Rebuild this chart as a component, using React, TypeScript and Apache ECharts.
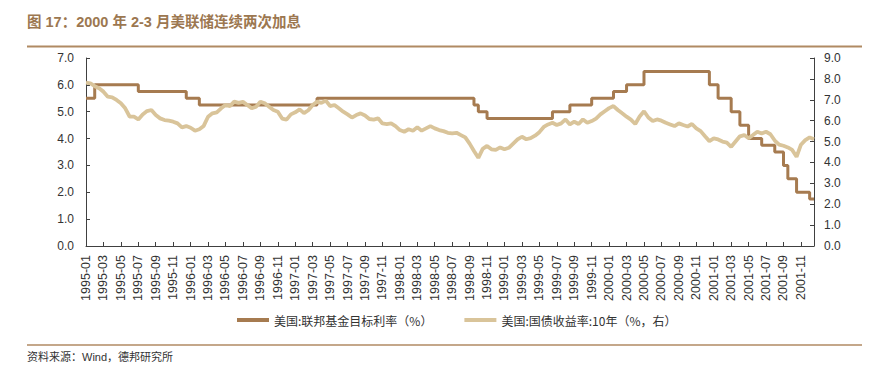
import React, { useEffect, useRef } from "react";
import * as echarts from "echarts";

// Half-month categories, 1995-01 .. 2001-12 ("a" = first half, "b" = second half)
const years = [1995, 1996, 1997, 1998, 1999, 2000, 2001];
const months = ["01", "02", "03", "04", "05", "06", "07", "08", "09", "10", "11", "12"];
const halves = ["a", "b"];
const categories: string[] = [];
years.forEach((y) => months.forEach((m) => halves.forEach((h) => categories.push(`${y}-${m}${h}`))));

// Fed funds target rate (%), left axis: dates of change and new level
const fedChangeDates = [
  "1995-01a", "1995-02a", "1995-07a", "1995-12b", "1996-02a", "1997-03b",
  "1998-09b", "1998-10a", "1998-11a", "1999-06b", "1999-08b", "1999-11a",
  "2000-01b", "2000-03a", "2000-05a", "2000-12b", "2001-01b", "2001-03a",
  "2001-04a", "2001-05a", "2001-06b", "2001-08a", "2001-09a", "2001-09b",
  "2001-10b", "2001-12a",
];
const fedRates = [
  5.5, 6.0, 5.75, 5.5, 5.25, 5.5,
  5.25, 5.0, 4.75, 5.0, 5.25, 5.5,
  5.75, 6.0, 6.5, 6.0, 5.5, 5.0,
  4.5, 4.0, 3.75, 3.5, 3.0, 2.5,
  2.0, 1.75,
];

// US 10Y Treasury yield (%), right axis, half-monthly readings
const yield10y = [
  7.82, 7.79, 7.65, 7.55, 7.39, 7.15, 7.12, 6.99, 6.83, 6.59, 6.2, 6.19, 6.06, 6.3, 6.46, 6.51, 6.27, 6.11, 6.03, 6.0, 5.95, 5.87, 5.68, 5.74,
  5.66, 5.52, 5.59, 5.75, 6.19, 6.35, 6.4, 6.59, 6.75, 6.7, 6.91, 6.85, 6.9, 6.75, 6.59, 6.67, 6.91, 6.83, 6.67, 6.51, 6.43, 6.1, 6.05, 6.3,
  6.4, 6.54, 6.36, 6.5, 6.75, 6.91, 6.85, 6.96, 6.7, 6.75, 6.59, 6.43, 6.3, 6.15, 6.27, 6.35, 6.25, 6.08, 6.05, 6.11, 5.87, 5.84, 5.87, 5.74,
  5.55, 5.47, 5.59, 5.52, 5.68, 5.52, 5.63, 5.74, 5.63, 5.55, 5.5, 5.42, 5.39, 5.42, 5.31, 5.2, 4.9, 4.55, 4.22, 4.65, 4.79, 4.63, 4.6, 4.72,
  4.63, 4.7, 4.9, 5.1, 5.23, 5.11, 5.16, 5.28, 5.45, 5.7, 5.82, 5.9, 5.79, 5.87, 6.06, 5.82, 5.95, 5.84, 6.06, 5.9, 5.98, 6.1, 6.3, 6.45,
  6.6, 6.7, 6.51, 6.35, 6.19, 6.05, 5.84, 6.2, 6.45, 6.15, 5.98, 6.06, 6.0, 5.9, 5.82, 5.74, 5.87, 5.79, 5.72, 5.84, 5.63, 5.5, 5.25, 5.02,
  5.15, 5.1, 5.0, 4.95, 4.75, 5.0, 5.25, 5.31, 5.16, 5.31, 5.47, 5.39, 5.47, 5.35, 5.05, 4.85, 4.8, 4.72, 4.6, 4.27, 4.85, 5.07, 5.2, 5.11,
];

const leftTicks = { min: 0, max: 7, interval: 1 };
const rightTicks = { min: 0, max: 9, interval: 1 };

const titleText = "图 17：2000 年 2-3 月美联储连续两次加息";
const sourceText = "资料来源：Wind，德邦研究所";
const seriesNames = ["美国:联邦基金目标利率（%）", "美国:国债收益率:10年（%，右）"];

const FONT = "'Liberation Sans', Arial, 'Noto Sans CJK SC', sans-serif";
const FED_COLOR = "#A67B50";
const YIELD_COLOR = "#D9C49A";
const AXIS_COLOR = "#404040";
const TEXT_COLOR = "#333333";

function buildFedSeries(): number[] {
  const out: number[] = [];
  let j = 0;
  let current = fedRates[0];
  categories.forEach((c) => {
    while (j < fedChangeDates.length && fedChangeDates[j] <= c) {
      current = fedRates[j];
      j++;
    }
    out.push(current);
  });
  return out;
}

export default function App() {
  const ref = useRef<HTMLDivElement>(null);

  useEffect(() => {
    if (!ref.current) return;
    const chart = echarts.init(ref.current, null, { renderer: "svg" });
    const fedSeries = buildFedSeries();

    chart.setOption({
      animation: false,
      backgroundColor: "#ffffff",
      textStyle: { fontFamily: FONT },
      grid: { left: 86, right: 60, top: 58, bottom: 121, containLabel: false },
      legend: {
        left: 232,
        top: 309,
        itemWidth: 32,
        itemHeight: 4,
        itemGap: 32,
        icon: "rect",
        textStyle: { fontSize: 12, color: TEXT_COLOR, fontFamily: "'Noto Sans CJK SC', sans-serif" },
        data: seriesNames,
      },
      xAxis: {
        type: "category",
        boundaryGap: false,
        data: categories,
        axisLine: { lineStyle: { color: AXIS_COLOR, width: 1 } },
        axisTick: { inside: true, length: 4, interval: 3, lineStyle: { color: AXIS_COLOR } },
        axisLabel: {
          interval: 3,
          rotate: 90,
          margin: 9,
          fontSize: 12.5,
          color: TEXT_COLOR,
          fontFamily: FONT,
          formatter: (v: string) => v.slice(0, 7),
        },
        splitLine: { show: false },
      },
      yAxis: [
        {
          type: "value",
          position: "left",
          ...leftTicks,
          axisLine: { show: true, lineStyle: { color: AXIS_COLOR } },
          axisTick: { show: true, inside: true, length: 4, lineStyle: { color: AXIS_COLOR } },
          axisLabel: { fontSize: 12, color: TEXT_COLOR, margin: 12, formatter: (v: number) => v.toFixed(1) },
          splitLine: { show: false },
        },
        {
          type: "value",
          position: "right",
          ...rightTicks,
          axisLine: { show: true, lineStyle: { color: AXIS_COLOR } },
          axisTick: { show: true, inside: true, length: 4, lineStyle: { color: AXIS_COLOR } },
          axisLabel: { fontSize: 12, color: TEXT_COLOR, margin: 10, formatter: (v: number) => v.toFixed(1) },
          splitLine: { show: false },
        },
      ],
      series: [
        {
          name: seriesNames[0],
          type: "line",
          yAxisIndex: 0,
          step: "end",
          data: fedSeries,
          symbol: "none",
          color: FED_COLOR,
          lineStyle: { color: FED_COLOR, width: 3 },
          z: 2,
        },
        {
          name: seriesNames[1],
          type: "line",
          yAxisIndex: 1,
          data: yield10y,
          symbol: "none",
          color: YIELD_COLOR,
          lineStyle: { color: YIELD_COLOR, width: 3.8 },
          z: 3,
        },
      ],
      graphic: [
        {
          type: "text",
          left: 27,
          top: 15,
          style: {
            text: titleText,
            fill: "#9C7750",
            font: "bold 14.5px 'Liberation Sans', 'Noto Sans CJK SC', sans-serif",
          },
        },
        {
          type: "line",
          shape: { x1: 27, y1: 46.5, x2: 862, y2: 46.5 },
          style: { stroke: "#B08A63", lineWidth: 2 },
        },
        {
          type: "line",
          shape: { x1: 27, y1: 345, x2: 862, y2: 345 },
          style: { stroke: "#B08A63", lineWidth: 1.5 },
        },
        {
          type: "text",
          left: 27,
          top: 351,
          style: {
            text: sourceText,
            fill: "#333333",
            font: "11px 'Liberation Sans', 'Noto Sans CJK SC', sans-serif",
          },
        },
      ],
    });

    return () => chart.dispose();
  }, []);

  return (
    <div
      ref={ref}
      style={{ position: "absolute", left: 0, top: 0, width: 874, height: 367 }}
    />
  );
}
